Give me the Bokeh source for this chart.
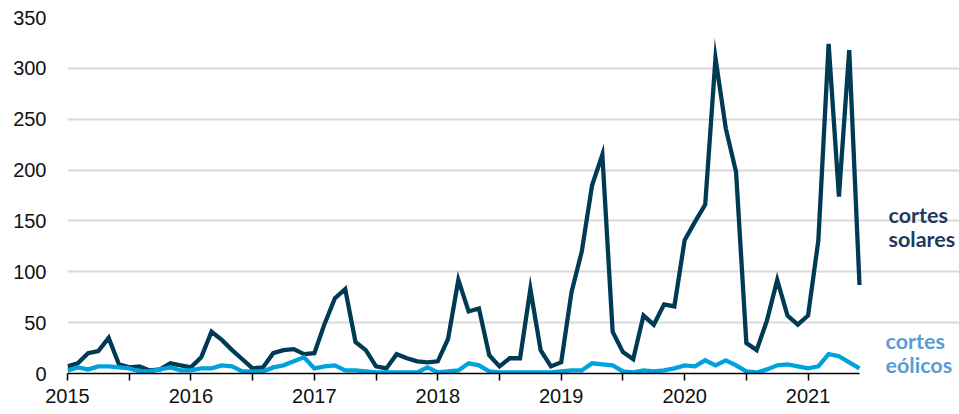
import numpy as np
from bokeh.plotting import figure
from bokeh.models import Range1d, FixedTicker, Label, ColumnDataSource
from bokeh.embed import file_html
from bokeh.resources import INLINE

# Monthly data, Jan 2015 - Jun 2021
years = ["2015", "2016", "2017", "2018", "2019", "2020", "2021"]
solar = [7, 10, 20, 22, 35, 9, 6, 7, 3, 4, 10, 8,
         6, 16, 41, 33, 23, 14, 5, 6, 20, 23, 24, 19,
         20, 49, 74, 83, 31, 23, 7, 5, 19, 15, 12, 11,
         12, 34, 92, 61, 64, 18, 7, 15, 15, 83, 23, 7,
         11, 80, 120, 185, 215, 41, 21, 14, 57, 48, 68, 66,
         131, 149, 166, 310, 241, 198, 30, 23, 52, 92, 57, 48,
         57, 131, 324, 174, 318, 87]
wind = [3, 6, 4, 7, 7, 6, 5, 2, 2, 4, 6, 3,
        3, 5, 5, 8, 7, 2, 2, 2, 6, 8, 12, 16,
        5, 7, 8, 3, 3, 2, 1, 1, 1, 1, 1, 6,
        1, 2, 3, 10, 8, 2, 1, 1, 1, 1, 1, 1,
        2, 3, 3, 10, 9, 8, 2, 1, 3, 2, 3, 5,
        8, 7, 13, 8, 13, 8, 2, 1, 4, 8, 9, 7,
        5, 7, 19, 17, 11, 5]
yticks = [0, 50, 100, 150, 200, 250, 300, 350]
solar_label = ["cortes", "solares"]
wind_label = ["cortes", "eólicos"]

SOLAR_COLOR = "#003b56"
WIND_COLOR = "#00a2de"

n = len(solar)
last = n - 1
months = np.arange(n)
src = ColumnDataSource(dict(m=months, solar=solar, wind=wind))

W, H = 959, 414
left, top, bottom = 67, 17, 41
data_right_px = 859
px_per_month = (data_right_px - left) / last
x_end = last + (W - data_right_px) / px_per_month

p = figure(width=W, height=H, output_backend="svg", toolbar_location=None,
           x_range=Range1d(0, x_end), y_range=Range1d(0, 350),
           min_border_left=left, min_border_right=0, min_border_top=top,
           min_border_bottom=bottom)
p.outline_line_color = None
p.background_fill_color = "white"
p.border_fill_color = "white"

p.xgrid.visible = False
p.ygrid.grid_line_color = "#d9d9d9"
p.ygrid.grid_line_width = 2
p.ygrid.bounds = (0, last)

p.yaxis.ticker = FixedTicker(ticks=yticks)
p.yaxis.axis_line_color = None
p.yaxis.major_tick_line_color = None
p.yaxis.minor_tick_line_color = None
p.yaxis.major_label_standoff = 15
p.yaxis.major_label_text_font = "Liberation Sans"
p.yaxis.major_label_text_font_size = "20px"
p.yaxis.major_label_text_color = "#111111"

xt = list(range(0, n, 6))
p.xaxis.ticker = FixedTicker(ticks=xt)
p.xaxis.bounds = (0, last)
p.xaxis.major_label_overrides = {t: (years[t // 12] if t % 12 == 0 else "") for t in xt}
p.xaxis.axis_line_color = "black"
p.xaxis.axis_line_width = 1.5
p.xaxis.major_tick_line_color = "black"
p.xaxis.major_tick_line_width = 1.5
p.xaxis.major_tick_in = 0
p.xaxis.major_tick_out = 7
p.xaxis.minor_tick_line_color = None
p.xaxis.major_label_standoff = 8
p.xaxis.major_label_text_font = "Liberation Sans"
p.xaxis.major_label_text_font_size = "20px"
p.xaxis.major_label_text_color = "#111111"

p.line("m", "solar", source=src, line_color=SOLAR_COLOR, line_width=4.3, line_join="miter")
p.line("m", "wind", source=src, line_color=WIND_COLOR, line_width=4.3, line_join="miter")

for txt, yv in zip(solar_label, [147.5, 124.5]):
    p.add_layout(Label(x=last, y=yv, x_offset=29, y_offset=8, text=txt, text_font="Lato",
                       text_font_style="bold", text_font_size="21.5px",
                       text_color="#1f3a5c", text_baseline="alphabetic"))
for txt, yv in zip(wind_label, [23.6, 0.3]):
    p.add_layout(Label(x=last, y=yv, x_offset=26, y_offset=8, text=txt, text_font="Lato",
                       text_font_style="bold", text_font_size="21.5px",
                       text_color="#5b9bd5", text_baseline="alphabetic"))

open("out.html", "w").write(file_html(p, INLINE))
